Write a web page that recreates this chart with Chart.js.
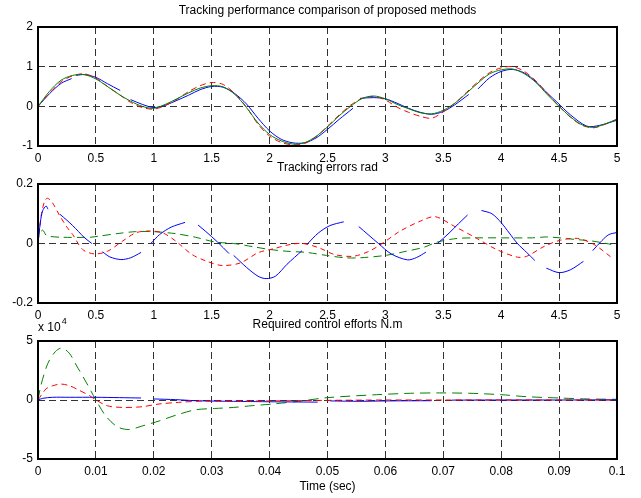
<!DOCTYPE html>
<html lang="en">
<head>
    <meta charset="UTF-8">
    <title>Tracking performance comparison</title>
    <script src="https://cdn.jsdelivr.net/npm/chart.js"></script>
    <style>
        body {
            margin: 0;
            padding: 0;
            background: #fff;
        }
        .wrap {
            position: relative;
            width: 641px;
            height: 498px;
        }
        .wrap canvas {
            position: absolute;
            left: 0;
            top: 0;
        }
    </style>
</head>
<body>
    <div class="wrap">
        <canvas id="posChart" width="641" height="498"></canvas>
        <canvas id="errChart" width="641" height="498"></canvas>
        <canvas id="effChart" width="641" height="498"></canvas>
    </div>

    <script>
        // ---- top plot: tracking performance (rad) ----
        const posTime = [0, 0.1, 0.2, 0.3, 0.4, 0.5, 0.6, 0.7, 0.8, 0.9, 1.0, 1.1, 1.2, 1.3, 1.4, 1.5, 1.6, 1.7, 1.8, 1.9,
            2.0, 2.1, 2.2, 2.3, 2.4, 2.5, 2.6, 2.7, 2.8, 2.9, 3.0, 3.1, 3.2, 3.3, 3.4, 3.5, 3.6, 3.7, 3.8, 3.9,
            4.0, 4.1, 4.2, 4.3, 4.4, 4.5, 4.6, 4.7, 4.8, 4.9, 5.0];
        const posGreen = [0, 0.38, 0.66, 0.78, 0.80, 0.69, 0.50, 0.30, 0.13, 0.00, -0.05, 0.05, 0.19, 0.34, 0.46, 0.52, 0.49, 0.30, -0.03, -0.42,
            -0.71, -0.87, -0.95, -0.92, -0.76, -0.52, -0.24, 0.00, 0.20, 0.26, 0.19, 0.05, -0.06, -0.16, -0.19, -0.10, 0.08, 0.33, 0.59, 0.82,
            0.92, 0.94, 0.82, 0.60, 0.29, 0.00, -0.27, -0.47, -0.53, -0.44, -0.33];
        const posRed = [0, 0.33, 0.62, 0.77, 0.82, 0.71, 0.50, 0.30, 0.10, -0.03, -0.07, 0.02, 0.18, 0.37, 0.52, 0.60, 0.55, 0.32, -0.02, -0.45,
            -0.75, -0.91, -0.97, -0.94, -0.77, -0.50, -0.22, 0.03, 0.20, 0.25, 0.16, -0.02, -0.15, -0.25, -0.30, -0.14, 0.08, 0.35, 0.62, 0.85,
            0.97, 1.00, 0.88, 0.64, 0.32, 0.00, -0.28, -0.48, -0.54, -0.45, -0.32];
        const posBlueT = [0, 0.1, 0.2, 0.29, 0.31, 0.33, 0.4, 0.5, 0.6, 0.71, 0.75, 0.8, 0.9, 1.0, 1.1, 1.2, 1.3, 1.4, 1.5, 1.6, 1.7, 1.8, 1.9,
            2.0, 2.1, 2.2, 2.3, 2.4, 2.5, 2.6, 2.72, 2.75, 2.78, 2.9, 3.0, 3.1, 3.2, 3.3, 3.4, 3.5, 3.6, 3.72, 3.76, 3.8, 3.9,
            4.0, 4.1, 4.2, 4.3, 4.4, 4.48, 4.6, 4.74, 4.85, 5.0];
        const posBlue = [0, 0.32, 0.58, 0.70, null, 0.78, 0.80, 0.73, 0.57, 0.40, null, 0.17, 0.05, -0.03, 0.03, 0.15, 0.28, 0.42, 0.50, 0.48, 0.32, 0.06, -0.30,
            -0.62, -0.83, -0.92, -0.92, -0.80, -0.58, -0.33, -0.05, null, 0.20, 0.22, 0.19, 0.08, -0.05, -0.15, -0.20, -0.13, 0.04, 0.30, null, 0.44, 0.72,
            0.88, 0.93, 0.84, 0.62, 0.33, 0.11, -0.22, -0.50, -0.48, -0.35];

        // ---- middle plot: tracking errors (rad) ----
        const errBlueT = [0, 0.02, 0.04, 0.07, 0.086, 0.14,
            0.19, 0.25, 0.3, 0.35, 0.4, 0.465, 0.51,
            0.557, 0.62, 0.716, 0.8, 0.89, 0.93,
            0.974, 1.05, 1.15, 1.27, 1.32,
            1.382, 1.45, 1.55, 1.65, 1.67,
            1.69, 1.8, 1.9, 1.97, 2.05, 2.15, 2.28, 2.3,
            2.33, 2.42, 2.52, 2.64, 2.7,
            2.77, 2.85, 2.94, 3.05, 3.19, 3.27, 3.35, 3.4,
            3.45, 3.55, 3.63, 3.71, 3.77,
            3.83, 3.92, 4.0, 4.07, 4.14, 4.22, 4.29, 4.34,
            4.39, 4.5, 4.6, 4.71, 4.75,
            4.79, 4.87, 4.93, 5.0];
        const errBlue = [0, 0.07, 0.11, 0.126, 0.115, null,
            0.098, 0.078, 0.06, 0.04, 0.02, 0.0, null,
            -0.028, -0.045, -0.054, -0.048, -0.03, null,
            0.0, 0.03, 0.055, 0.071, null,
            0.062, 0.04, 0.005, -0.034, null,
            -0.04, -0.08, -0.11, -0.118, -0.11, -0.07, -0.024, null,
            0.0, 0.035, 0.06, 0.073, null,
            0.057, 0.03, 0.0, -0.035, -0.055, -0.047, -0.029, null,
            0.0, 0.035, 0.066, 0.096, null,
            0.111, 0.1, 0.07, 0.035, 0.0, -0.03, -0.057, null,
            -0.083, -0.098, -0.088, -0.06, null,
            -0.024, 0.01, 0.03, 0.037];
        const errRedT = [0, 0.03, 0.06, 0.083, 0.12, 0.19, 0.25, 0.3, 0.385, 0.486, 0.6, 0.73, 0.845, 0.96, 1.075, 1.19, 1.33, 1.46, 1.59,
            1.75, 1.9, 2.03, 2.18, 2.29, 2.43, 2.56, 2.72, 2.86, 2.98, 3.12, 3.3, 3.43, 3.59, 3.79, 3.96, 4.14, 4.22, 4.37, 4.51,
            4.66, 4.8, 4.96];
        const errRed = [0, 0.10, 0.145, 0.152, 0.14, 0.092, 0.055, 0.03, -0.02, -0.035, -0.026, 0.008, 0.036, 0.042, 0.036, 0.008, -0.037, -0.06, -0.074,
            -0.065, -0.031, -0.018, -0.003, 0.0, -0.015, -0.037, -0.043, -0.026, 0.002, 0.04, 0.075, 0.09, 0.059, 0.017, -0.02, -0.046, -0.043, -0.01, 0.011,
            0.017, -0.003, -0.049];
        const errGreenT = [0, 0.01, 0.04, 0.07, 0.1, 0.2, 0.45, 0.53, 0.7, 0.845, 0.99, 1.19, 1.36, 1.53, 1.69, 1.86, 2.0, 2.15, 2.32,
            2.49, 2.65, 2.78, 3.0, 3.18, 3.33, 3.45, 3.62, 3.79, 4.27, 4.4, 4.63, 4.79, 4.95];
        const errGreen = [0, 0.03, 0.045, 0.028, 0.024, 0.021, 0.021, 0.025, 0.034, 0.04, 0.04, 0.033, 0.021, 0.005, 0.0, -0.011, -0.02, -0.026, -0.03,
            -0.04, -0.048, -0.048, -0.04, -0.026, -0.013, 0.005, 0.017, 0.019, 0.019, 0.022, 0.014, 0.008, -0.003];

        // ---- bottom plot: control efforts (x 10^4 N.m) ----
        const effGreenT = [0, 0.0005, 0.0017, 0.003, 0.0041, 0.0054, 0.0066, 0.0083, 0.01, 0.0117, 0.0137, 0.0157, 0.018, 0.0209, 0.0238,
            0.0272, 0.0305, 0.0338, 0.037, 0.0405, 0.045, 0.05, 0.0585, 0.0643, 0.0694, 0.0746, 0.08, 0.0844, 0.09, 0.0948, 0.1];
        const effGreen = [0, 1.24, 3.1, 4.1, 4.4, 3.97, 2.96, 1.52, 0, -1.35, -2.27, -2.5, -2.2, -1.78, -1.29,
            -0.83, -0.72, -0.63, -0.48, -0.34, -0.11, 0.2, 0.45, 0.57, 0.6, 0.57, 0.45, 0.28, 0.17, 0.09, 0.06];
        const effRedT = [0, 0.0014, 0.0025, 0.004, 0.0055, 0.0066, 0.0089, 0.01, 0.012, 0.0146, 0.018, 0.0209, 0.0243, 0.0284, 0.0318,
            0.04, 0.05, 0.06, 0.07, 0.08, 0.09, 0.1];
        const effRed = [0, 0.95, 1.2, 1.35, 1.2, 0.95, 0.37, 0, -0.49, -0.63, -0.57, -0.34, -0.2, -0.09, -0.09,
            -0.08, -0.03, 0.0, 0.0, 0.0, 0.0, 0.0];
        const effBlueT = [0, 0.0008, 0.0025, 0.0054, 0.01, 0.0141, 0.0178, 0.019, 0.02, 0.0238, 0.0272, 0.03, 0.035, 0.04, 0.0483, 0.049,
            0.0505, 0.0556, 0.06, 0.068, 0.07, 0.0715, 0.08, 0.09, 0.1];
        const effBlue = [0, 0.14, 0.23, 0.23, 0.23, 0.2, 0.17, null, 0.09, 0.03, -0.06, -0.09, -0.12, -0.15, -0.18, null,
            -0.08, -0.11, -0.08, -0.06, null, -0.01, 0.0, 0.0, 0.02];

        const posTicksX = [0, 0.5, 1, 1.5, 2, 2.5, 3, 3.5, 4, 4.5, 5];
        const posTicksY = [-1, 0, 1, 2];
        const errTicksY = [-0.2, 0, 0.2];
        const effTicksX = [0, 0.01, 0.02, 0.03, 0.04, 0.05, 0.06, 0.07, 0.08, 0.09, 0.1];
        const effTicksY = [-5, 0, 5];

        Chart.defaults.font.family = 'Arial, "Liberation Sans", sans-serif';
        Chart.defaults.font.size = 12;
        Chart.defaults.color = '#000';

        const BLUE = '#0000ff', RED = '#ff0000', GREEN = '#008000';

        const pts = (xs, ys) => xs.map((x, i) => ({ x: x, y: ys[i] }));
        const fmt = v => String(Number(v.toFixed(3)));

        const line = (label, xs, ys, color, dash) => ({
            label: label,
            data: pts(xs, ys),
            borderColor: color,
            borderWidth: 1,
            borderDash: dash || [],
            pointRadius: 0,
            tension: 0.3,
            spanGaps: false,
            fill: false
        });

        // draws the box round the plot area and the text above it
        const frame = (title, extra) => ({
            id: 'frame',
            afterDraw(chart) {
                const { ctx, chartArea: a } = chart;
                ctx.save();
                ctx.strokeStyle = '#000';
                ctx.lineWidth = 2;
                ctx.strokeRect(Math.round(a.left), Math.round(a.top),
                    Math.round(a.right - a.left), Math.round(a.bottom - a.top));
                ctx.fillStyle = '#000';
                ctx.font = '12px Arial, "Liberation Sans", sans-serif';
                ctx.textAlign = 'center';
                ctx.textBaseline = 'middle';
                ctx.fillText(title.text, (a.left + a.right) / 2, title.y);
                if (extra) extra(ctx, a);
                ctx.restore();
            }
        });

        const makeOptions = (o) => ({
            responsive: false,
            animation: false,
            events: [],
            layout: { padding: { left: 0, right: 24, top: o.top, bottom: o.bottom } },
            plugins: { legend: { display: false }, tooltip: { enabled: false } },
            scales: {
                x: {
                    type: 'linear',
                    min: o.xTicks[0],
                    max: o.xTicks[o.xTicks.length - 1],
                    afterBuildTicks: s => { s.ticks = o.xTicks.map(v => ({ value: v })); },
                    afterFit: s => { s.height = o.xH; },
                    ticks: { padding: 5, maxRotation: 0, autoSkip: false, callback: v => fmt(v) },
                    grid: { color: '#333', lineWidth: 1, drawTicks: false },
                    border: { display: false, dash: [7, 4] },
                    title: o.xTitle ? { display: true, text: o.xTitle, padding: { top: 4, bottom: 4 } } : { display: false }
                },
                y: {
                    min: o.yTicks[0],
                    max: o.yTicks[o.yTicks.length - 1],
                    afterBuildTicks: s => { s.ticks = o.yTicks.map(v => ({ value: v })); },
                    afterFit: s => { s.width = 38; },
                    ticks: { padding: 5, autoSkip: false, callback: v => fmt(v) },
                    grid: { color: '#333', lineWidth: 1, drawTicks: false },
                    border: { display: false, dash: [7, 4] }
                }
            }
        });

        new Chart(document.getElementById('posChart'), {
            type: 'line',
            data: {
                datasets: [
                    line('green', posTime, posGreen, GREEN),
                    line('red', posTime, posRed, RED, [6, 4]),
                    line('blue', posBlueT, posBlue, BLUE)
                ]
            },
            options: makeOptions({ top: 27, bottom: 328, xH: 24, xTicks: posTicksX, yTicks: posTicksY }),
            plugins: [frame({ text: 'Tracking performance comparison of proposed methods', y: 11 })]
        });

        new Chart(document.getElementById('errChart'), {
            type: 'line',
            data: {
                datasets: [
                    line('blue', errBlueT, errBlue, BLUE),
                    line('red', errRedT, errRed, RED, [5, 4]),
                    line('green', errGreenT, errGreen, GREEN, [8, 5])
                ]
            },
            options: makeOptions({ top: 184, bottom: 173, xH: 22, xTicks: posTicksX, yTicks: errTicksY }),
            plugins: [frame({ text: 'Tracking errors rad', y: 168 })]
        });

        new Chart(document.getElementById('effChart'), {
            type: 'line',
            data: {
                datasets: [
                    line('red', effRedT, effRed, RED, [6, 4]),
                    line('blue', effBlueT, effBlue, BLUE),
                    line('green', effGreenT, effGreen, GREEN, [10, 6])
                ]
            },
            options: makeOptions({ top: 341, bottom: 0, xH: 39, xTicks: effTicksX, yTicks: effTicksY, xTitle: 'Time (sec)' }),
            plugins: [frame({ text: 'Required control efforts N.m', y: 325 }, (ctx, a) => {
                ctx.textAlign = 'left';
                ctx.fillText('x 10', a.left, 328);
                const w = ctx.measureText('x 10').width;
                ctx.font = '9px Arial, "Liberation Sans", sans-serif';
                ctx.fillText('4', a.left + w + 1, 322);
            })]
        });
    </script>
</body>
</html>
